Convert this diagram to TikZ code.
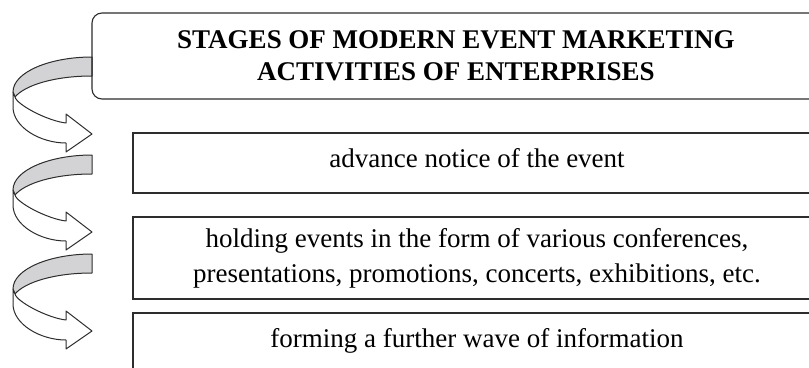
\documentclass[tikz,border=0pt]{standalone}
\usepackage{fontspec}
\setmainfont{Liberation Serif}
\definecolor{ribgray}{RGB}{211,211,213}
\definecolor{linegray}{RGB}{45,45,45}
\tikzset{
  headbox/.style={draw=linegray, line width=1.1pt, rounded corners=10pt, minimum width=728pt, minimum height=86pt, inner sep=0pt, align=center, font=\bfseries\fontsize{27}{32}\selectfont},
  stagebox/.style={draw=linegray, line width=1.1pt, minimum width=688pt, inner sep=0pt, align=center, font=\fontsize{27}{35}\selectfont},
  oneline/.style={minimum height=60pt, text height=18pt, text depth=10pt},
  ribback/.style={fill=ribgray, draw=linegray, line width=1pt, line join=round},
  ribfront/.style={fill=white, draw=linegray, line width=1pt, line join=round}
}
\begin{document}
\begin{tikzpicture}[x=1pt,y=-1pt]
    \useasboundingbox (0,0) rectangle (809,367);
    \clip (0,0) rectangle (809,367);
    % cintas curvas a la izquierda
    \foreach \y in {57,155,254}{
      \begin{scope}[shift={(0,\y)}]
        \draw[ribback] (92,0) .. controls (50,0) and (13,15) .. (13,35)
            -- (15,40) .. controls (25,28) and (55,19) .. (92,19) -- cycle;
        \draw[ribfront] (13,35) -- (13,50) .. controls (13,70) and (40,86) .. (66,86)
            -- (66,95) -- (92,77) -- (66,57) -- (66,66)
            .. controls (48,64) and (17,48) .. (15,40) -- cycle;
      \end{scope}
    }
    \node[headbox] (stages) at (456,56) {STAGES OF MODERN EVENT MARKETING\\ACTIVITIES OF ENTERPRISES};
    \node[stagebox, oneline] (notice) at (477,163) {advance notice of the event};
    \node[stagebox, minimum height=82pt] (holding) at (477,258) {holding events in the form of various conferences,\\presentations, promotions, concerts, exhibitions, etc.};
    \node[stagebox, oneline] (wave) at (477,343) {forming a further wave of information};
\end{tikzpicture}
\end{document}
